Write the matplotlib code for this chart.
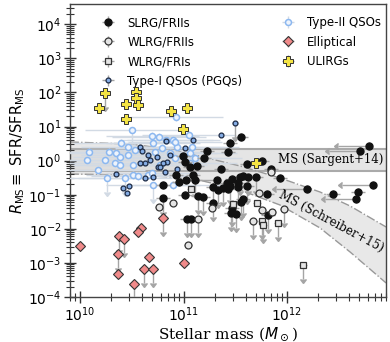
import numpy as np
import matplotlib
matplotlib.use("Agg")
import matplotlib.pyplot as plt

# ---- data (log10 stellar mass, log10 R_MS) ----
# SLRG/FRIIs
slrg_lm = [11.556, 11.449, 11.430, 11.227, 11.198, 10.995, 11.014, 11.063, 11.130, 11.092,
           11.111, 10.928, 10.957, 11.024, 11.614, 11.758, 11.845, 11.932, 11.546, 11.623,
           11.700, 11.469, 11.449, 11.527, 11.614, 11.285, 11.382, 11.362, 11.140, 11.188,
           11.285, 11.034, 11.072, 10.802, 10.802, 11.575, 11.556, 11.807, 11.469, 11.459,
           11.507, 11.816, 12.193, 12.444, 12.686, 12.667, 12.831, 12.705, 12.792, 11.324,
           11.333, 11.014, 11.575, 11.430, 11.527, 11.420]
slrg_lr = [0.692, 0.516, 0.252, 0.282, 0.077, 0.135, -0.041, -0.187, -0.158, -0.422,
           -0.569, -0.422, -0.627, -0.569, -0.099, -0.011, -0.246, -0.510, -0.481, -0.481,
           -0.481, -0.539, -0.745, -0.774, -0.745, -0.774, -0.803, -0.246, -1.038, -1.067,
           -1.243, -1.712, -1.712, -0.715, -1.097, -1.126, -1.214, -0.979, -1.390, -1.537,
           -1.566, -1.595, -0.833, -0.979, -0.921, -1.126, -0.715, 0.282, 0.428, -0.569,
           -0.862, -1.009, -0.451, -0.833, -0.657, -0.657]
slrg_ul = [0, 0, 0, 0, 0, 0, 0, 0, 0, 0,
           1, 0, 0, 0, 0, 0, 0, 0, 1, 1,
           1, 0, 1, 1, 1, 1, 1, 0, 1, 1,
           1, 1, 1, 0, 1, 1, 1, 0, 1, 1,
           1, 1, 0, 0, 0, 0, 0, 0, 0, 0,
           1, 0, 0, 0, 0, 0]
slrg_xul = [0] * 44 + [0, 1, 1, 1, 1, 1] + [0] * 6
slrg_xul[42] = 1

# WLRG/FRIIs
wfr2_lm = [10.763, 10.899, 11.043, 11.275, 11.140, 11.729, 11.758, 11.855, 11.671, 11.971, 11.845]
wfr2_lr = [-1.361, -1.243, -2.475, -1.390, -1.712, -0.950, -1.448, -1.507, -1.771, -1.419, -0.334]
wfr2_ul = [0, 0, 0, 0, 1, 0, 0, 0, 1, 1, 0]

# WLRG/FRIs
wfr1_lm = [11.072, 11.478, 11.710, 11.758, 11.768, 11.913, 12.155]
wfr1_lr = [-0.833, -1.273, -1.243, -1.771, -1.889, -1.830, -3.061]
wfr1_ul = [0, 0, 0, 1, 1, 1, 1]

# Type-I QSOs (PGQs)
pgq_lm = [11.498, 11.362, 11.092, 11.014, 10.831, 10.580, 10.599, 10.744, 10.676, 10.841,
          10.628, 10.802, 10.754, 10.821, 10.705, 10.628, 10.937, 10.348, 10.415, 10.473,
          10.454, 10.657, 10.870, 10.580, 10.773]
pgq_lr = [1.103, 0.751, 0.604, 0.370, 0.575, 0.399, 0.282, 0.106, 0.018, -0.041,
          -0.070, -0.070, -0.187, -0.334, -0.481, -0.510, -0.246, -0.393, -0.803, -0.745,
          -0.950, 0.165, 0.165, -0.070, -0.187]
pgq_ul = [1] + [0] * 24

# Type-II QSOs
qso2_lm = [10.928, 10.502, 10.396, 10.087, 10.280, 10.348, 10.338, 10.174, 10.261, 10.435,
           10.512, 10.560, 10.657, 10.696, 10.763, 10.831, 10.899, 11.053, 10.705, 10.725,
           10.792, 10.870, 10.918, 10.937, 10.918, 11.063, 11.111, 11.082, 10.705, 10.899,
           10.696, 10.464, 10.531, 10.242, 10.068, 10.773, 10.386, 11.063, 10.512, 10.386,
           10.464]
qso2_lr = [1.279, 0.898, 0.516, 0.252, 0.252, 0.223, -0.070, -0.275, -0.510, -0.510,
           -0.422, -0.451, -0.422, 0.722, 0.692, 0.604, 0.604, 0.751, 0.516, 0.252,
           0.370, 0.223, 0.077, 0.399, 0.546, 0.223, 0.077, 0.399, -0.715, -0.715,
           -0.363, 0.165, 0.311, 0.018, 0.018, -0.129, -0.129, -0.070, -0.129, 0.106,
           0.399]
qso2_ul = [0, 1, 0, 0, 0, 0, 0, 0, 1, 1,
           0, 0, 0, 0, 0, 0, 0, 0, 0, 0,
           0, 0, 0, 0, 0, 0, 0, 0, 1, 0,
           0, 0, 0, 0, 0, 0, 0, 0, 0, 0,
           0]

# Ellipticals
ell_lm = [10.000, 10.377, 10.425, 10.367, 10.367, 10.589, 10.560, 10.667, 10.618, 10.705,
          10.522, 10.802, 11.005]
ell_lr = [-2.504, -2.211, -2.299, -2.739, -3.325, -1.976, -2.094, -2.827, -3.179, -3.179,
          -3.618, -1.683, -3.003]
ell_ul = [0, 1, 1, 1, 0, 0, 0, 0, 1, 1, 1, 1, 0]

# ULIRGs
ulirg_lm = [10.184, 10.242, 10.444, 10.444, 10.541, 10.541, 10.560, 10.879, 11.034, 10.995, 11.700]
ulirg_lr = [1.543, 1.983, 1.660, 1.220, 2.012, 1.836, 1.631, 1.455, 1.543, 0.927, -0.070]
ulirg_ul = [0, 1, 0, 0, 0, 0, 0, 0, 0, 0, 0]

# main-sequence bands
sargent_lo, sargent_hi = 0.5, 2.2
schr_lm = [9.903, 10.483, 10.870, 11.188, 11.546, 11.932, 12.319, 12.609, 12.957]
schr_up = [0.546, 0.487, 0.340, 0.106, -0.158, -0.510, -0.921, -1.331, -1.947]
schr_lo = [-0.393, -0.422, -0.481, -0.598, -0.862, -1.302, -1.976, -2.680, -3.589]

fig = plt.figure(figsize=(3.9, 3.42), dpi=100)
ax = fig.add_axes([0.1795, 0.1316, 0.8105, 0.8567])
ax.set_xscale('log')
ax.set_yscale('log')
ax.set_xlim(10**9.903, 10**12.957)
ax.set_ylim(1e-4, 10**4.593)

ax.axhspan(sargent_lo, sargent_hi, color='#d4d4d4', alpha=0.6, lw=0, zorder=0)
ax.axhline(sargent_lo, color='#aaaaaa', lw=1.5, zorder=0.5)
ax.axhline(sargent_hi, color='#aaaaaa', lw=1.5, zorder=0.5)
sm = 10**np.array(schr_lm)
ax.fill_between(sm, 10**np.array(schr_lo), 10**np.array(schr_up), color='#dadada', alpha=0.6, lw=0, zorder=0)
ax.plot(sm, 10**np.array(schr_up), color='#999999', ls='-.', lw=1, zorder=0.5)
ax.plot(sm, 10**np.array(schr_lo), color='#999999', ls='-.', lw=1, zorder=0.5)


def group(lm, lr, ul, label, dx, dy, ecol, z, xul=None, **mk):
    m, r = 10**np.array(lm), 10**np.array(lr)
    ul = np.array(ul, bool)
    xul = np.zeros(len(m), bool) if xul is None else np.array(xul, bool)
    ylo = np.where(ul, 0, r * (1 - 10**-dy))
    yhi = np.where(ul, 0, r * (10**dy - 1))
    xlo = np.where(xul, 0, m * (1 - 10**-dx))
    xhi = np.where(xul, 0, m * (10**dx - 1))
    ax.errorbar(m, r, xerr=[xlo, xhi], yerr=[ylo, yhi], ecolor=ecol, elinewidth=1,
                capsize=0, label=label, zorder=z, ls='none', **mk)
    # upper limits: grey arrows
    if ul.any():
        ax.errorbar(m[ul], r[ul], yerr=r[ul] * (1 - 10**-0.4), uplims=True, fmt='none',
                    color=ecol, ecolor=ecol, elinewidth=1, capsize=2, zorder=z - 0.5)
    if xul.any():
        ax.errorbar(m[xul], r[xul], xerr=m[xul] * (1 - 10**-0.3), xuplims=True, fmt='none',
                    color=ecol, ecolor=ecol, elinewidth=1, capsize=2, zorder=z - 0.5)


grey = '#a5a5a5'
group(slrg_lm, slrg_lr, slrg_ul, 'SLRG/FRIIs', 0.07, 0.12, grey, 5, xul=slrg_xul,
      marker='o', ms=5, mfc='#111111', mec='#111111')
group(wfr2_lm, wfr2_lr, wfr2_ul, 'WLRG/FRIIs', 0.04, 0.08, grey, 5,
      marker='o', ms=5, mfc='#e4e4e4', mec='#333333', mew=0.9)
group(wfr1_lm, wfr1_lr, wfr1_ul, 'WLRG/FRIs', 0.04, 0.08, grey, 5,
      marker='s', ms=4.8, mfc='#e4e4e4', mec='#333333', mew=0.9)
group(pgq_lm, pgq_lr, pgq_ul, 'Type-I QSOs (PGQs)', 0.0, 0.0, grey, 4,
      marker='o', ms=3.5, mfc='#86aee6', mec='#1c2a44', mew=0.9)
group(qso2_lm, qso2_lr, qso2_ul, 'Type-II QSOs', 0.45, 0.12, '#d2dae4', 3,
      marker='o', ms=4.3, mfc='#eef4fc', mec='#8cb8f0', mew=1.1)
group(ell_lm, ell_lr, ell_ul, 'Elliptical', 0.03, 0.0, grey, 5,
      marker='D', ms=5, mfc='#f08a8a', mec='#333333', mew=0.8)
group(ulirg_lm, ulirg_lr, ulirg_ul, 'ULIRGs', 0.0, 0.0, grey, 6,
      marker='P', ms=6.5, mfc='#f4e444', mec='#333333', mew=0.7)

ax.text(10**12.425, 10**0.02, 'MS (Sargent+14)', family='DejaVu Serif', fontsize=8.5,
        ha='center', va='center', zorder=7)
ax.text(10**12.43, 10**-1.78, 'MS (Schreiber+15)', family='DejaVu Serif', fontsize=8.5,
        ha='center', va='center', rotation=-28, zorder=7)

ax.set_xlabel(r'Stellar mass ($M_\odot$)', family='DejaVu Serif', fontsize=11, labelpad=1)
ax.set_ylabel(r'$R_{\rm MS}\equiv$ SFR/SFR$_{\rm MS}$', fontsize=10.5, labelpad=1)

ax.yaxis.set_major_locator(matplotlib.ticker.LogLocator(base=10, numticks=20))
ax.yaxis.set_minor_locator(matplotlib.ticker.LogLocator(base=10, subs=np.arange(2, 10), numticks=20))
ax.tick_params(which='major', direction='inout', length=9, width=1, colors='#333333',
               labelcolor='black', labelsize=10, top=False, right=False, pad=1.5)
ax.tick_params(which='minor', direction='inout', length=6, width=0.8, colors='#333333',
               top=False, right=False)
for s in ax.spines.values():
    s.set_color('#444444')
    s.set_linewidth(1)

ax.legend(loc='upper left', bbox_to_anchor=(0.05, 0.995), ncol=2, frameon=False,
          fontsize=8.5, columnspacing=2.9, handletextpad=0.6, labelspacing=0.55,
          handlelength=2.0)

fig.savefig('out.png', dpi=100)
